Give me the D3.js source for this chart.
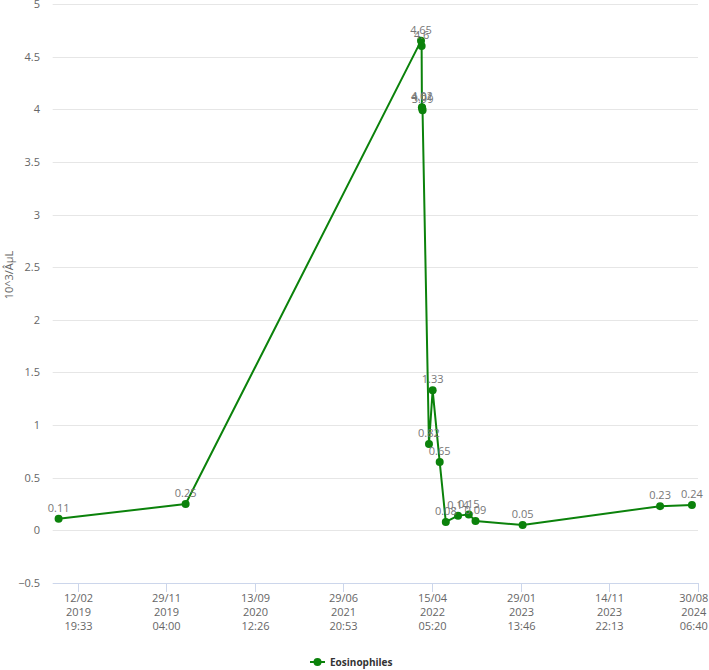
<!DOCTYPE html>
<html><head><meta charset="utf-8">
<script src="https://cdn.jsdelivr.net/npm/d3@7"></script>
<style>body{margin:0;background:#fff} svg{display:block;font-family:"Open Sans",sans-serif}</style>
</head><body>
<svg id="c" width="709" height="670"></svg>
<script>
// ---- data ----
const seriesName = "Eosinophiles";
const unitLabel = "10^3/ÂµL";
const dates = [
  "2018-12-12T10:00", "2020-01-31T09:00", "2022-03-10T09:00", "2022-03-12T09:00",
  "2022-03-13T09:00", "2022-03-14T09:00", "2022-03-15T09:00", "2022-04-05T09:00",
  "2022-04-17T09:00", "2022-05-10T09:00", "2022-05-30T09:00", "2022-07-09T09:00",
  "2022-08-13T09:00", "2022-09-04T09:00", "2023-02-05T09:00", "2024-04-29T09:00",
  "2024-08-11T09:00"
];
const values = [0.11, 0.25, 4.65, 4.6, 4.02, 4.01, 3.99, 0.82, 1.33, 0.65, 0.08, 0.14, 0.15, 0.09, 0.05, 0.23, 0.24];
const tickDates = [
  "2019-02-12T19:33", "2019-11-29T04:00", "2020-09-13T12:26", "2021-06-29T20:53",
  "2022-04-15T05:20", "2023-01-29T13:46", "2023-11-14T22:13", "2024-08-30T06:40"
];
const yTicks = [-0.5, 0, 0.5, 1, 1.5, 2, 2.5, 3, 3.5, 4, 4.5, 5];

// ---- layout ----
const W = 709;
const plotLeft = 52.7, plotRight = 698, plotTop = 4, plotBottom = 583;
const color = "#0b820b";
const svg = d3.select("#c");

const data = dates.map((d, i) => ({ date: new Date(d), value: values[i] }));
const ticks = tickDates.map(d => new Date(d));

const x = d3.scaleTime().domain([ticks[0], ticks[ticks.length - 1]]).range([77.7, 697.7]);
const y = d3.scaleLinear().domain([-0.5, 5]).range([plotBottom, plotTop]);

// gridlines
svg.append("g").selectAll("line").data(yTicks.filter(v => v > -0.5)).join("line")
  .attr("x1", plotLeft).attr("x2", plotRight)
  .attr("y1", d => Math.round(y(d)) + 0.5).attr("y2", d => Math.round(y(d)) + 0.5)
  .attr("stroke", "#e6e6e6").attr("stroke-width", 1);

// y labels
svg.append("g").selectAll("text").data(yTicks).join("text")
  .attr("x", 40).attr("y", d => y(d) + 4)
  .attr("text-anchor", "end").attr("font-size", 11).attr("fill", "#666")
  .text(d => d3.format("")(d));

// y title
svg.append("text")
  .attr("transform", "translate(13,275) rotate(-90)")
  .attr("text-anchor", "middle").attr("font-size", 11).attr("fill", "#666")
  .text(unitLabel);

// x axis line
svg.append("line").attr("x1", plotLeft).attr("x2", plotRight)
  .attr("y1", Math.round(plotBottom) + 0.5).attr("y2", Math.round(plotBottom) + 0.5)
  .attr("stroke", "#ccd6eb").attr("stroke-width", 1);

// x ticks
const fmt1 = d3.timeFormat("%d/%m"), fmt2 = d3.timeFormat("%Y"), fmt3 = d3.timeFormat("%H:%M");
const xt = svg.append("g").selectAll("g").data(ticks).join("g")
  .attr("transform", d => `translate(${Math.round(x(d)) + 0.5},0)`);
xt.append("line").attr("y1", plotBottom).attr("y2", plotBottom + 9)
  .attr("stroke", "#ccd6eb");
[fmt1, fmt2, fmt3].forEach((f, i) => {
  xt.append("text").attr("y", plotBottom + 18.5 + i * 14)
    .attr("x", (d, j) => Math.min(0, (W - 16) - x(d)))
    .attr("text-anchor", "middle").attr("font-size", 11).attr("fill", "#666")
    .text(d => f(d));
});

// line
svg.append("path").datum(data)
  .attr("d", d3.line().x(d => x(d.date)).y(d => y(d.value)))
  .attr("fill", "none").attr("stroke", color).attr("stroke-width", 2)
  .attr("stroke-linejoin", "round");

// markers
svg.append("g").selectAll("circle").data(data).join("circle")
  .attr("cx", d => x(d.date)).attr("cy", d => y(d.value)).attr("r", 4)
  .attr("fill", color);

// data labels
svg.append("g").selectAll("text").data(data).join("text")
  .attr("x", d => x(d.date)).attr("y", d => y(d.value) - 7)
  .attr("text-anchor", "middle").attr("font-size", 11).attr("fill", "#777")
  .text(d => d.value);

// legend
const lg = svg.append("g");
lg.append("line").attr("x1", 310).attr("x2", 325).attr("y1", 662).attr("y2", 662)
  .attr("stroke", color).attr("stroke-width", 2);
lg.append("circle").attr("cx", 317.5).attr("cy", 662).attr("r", 4).attr("fill", color);
lg.append("text").attr("x", 330).attr("y", 666).attr("font-size", 10)
  .attr("font-weight", "bold").attr("fill", "#333").text(seriesName);
</script>
</body></html>
